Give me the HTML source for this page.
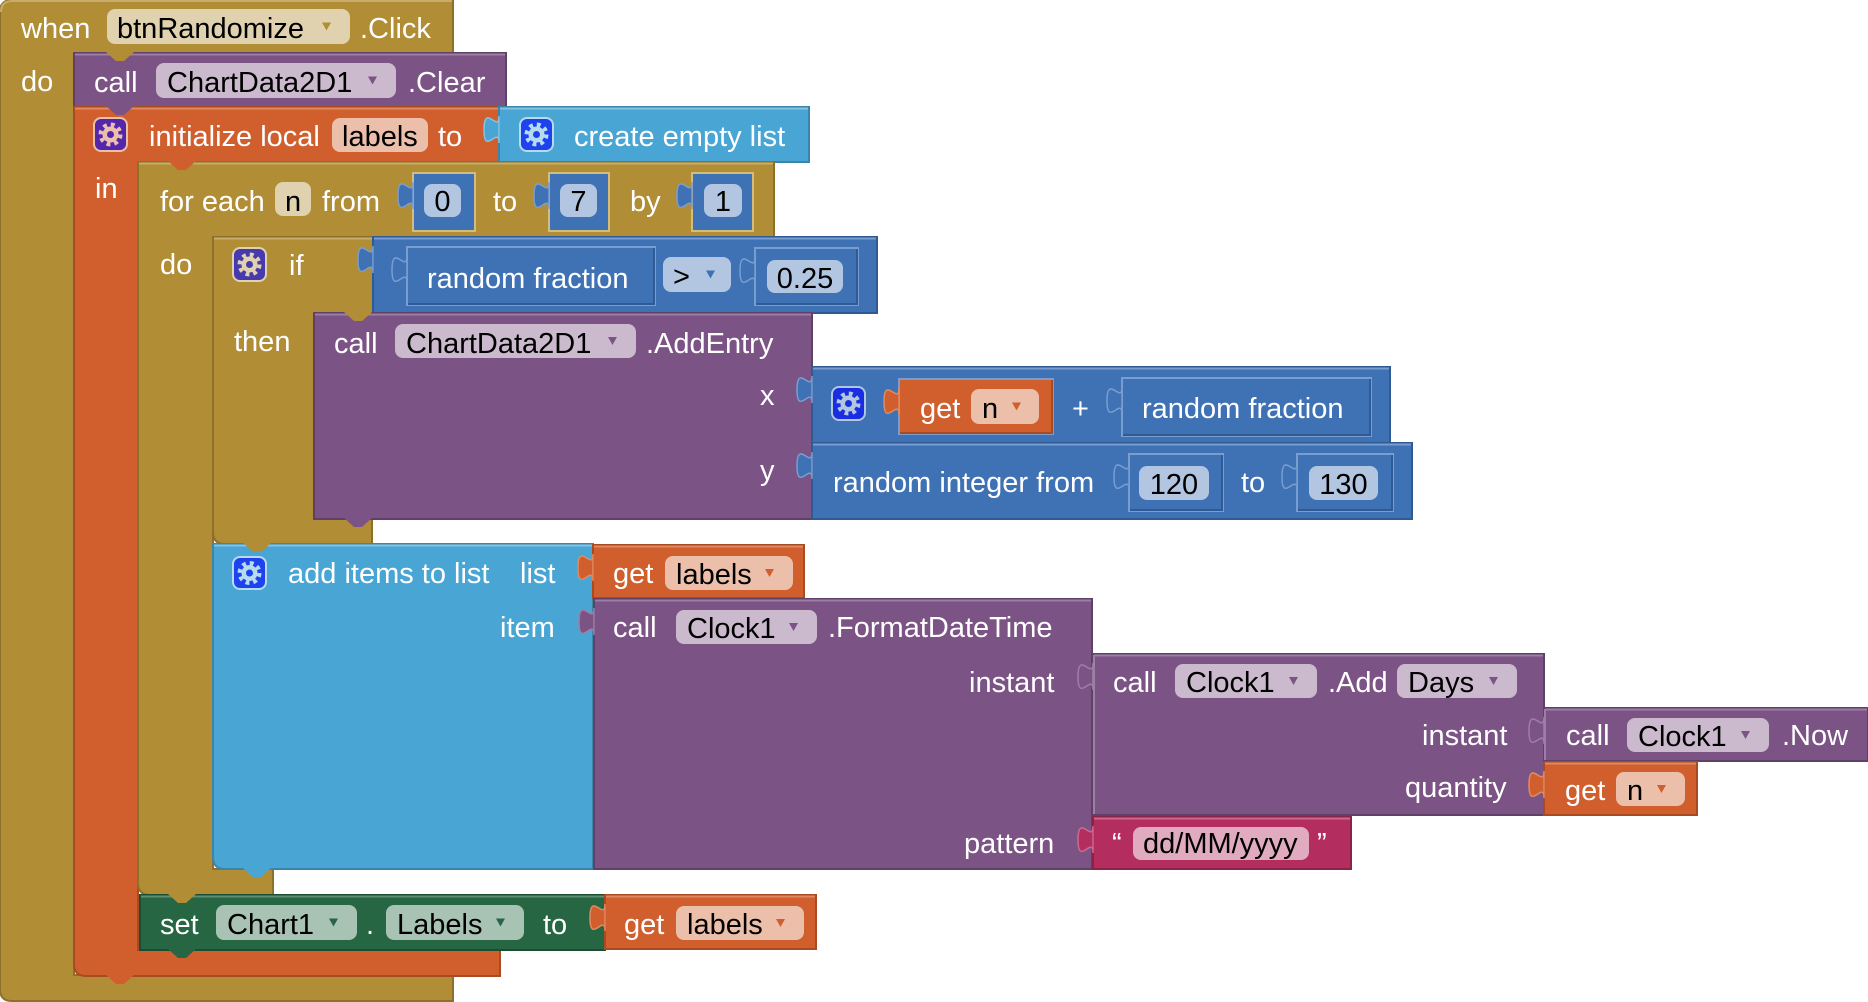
<!DOCTYPE html>
<html>
<head>
<meta charset="utf-8">
<style>
html,body{margin:0;padding:0;background:#fff;}
svg{display:block;}
text{font-family:"Liberation Sans",Arial,sans-serif;font-size:29px;}
.l{fill:#fff;}
.f{fill:#000;}
</style>
</head>
<body>
<svg xmlns="http://www.w3.org/2000/svg" width="1868" height="1002" viewBox="0 0 1868 1002">

<!-- Event block (gold) -->
<path d="M0,12 Q0,0 12,0 H453 V53 H74 V975 H453 V1001 H12 Q0,1001 0,989 Z" fill="#b18e35" stroke="#8d712a" stroke-width="2"/>
<path d="M1,12 Q1,1 12,1 H452" stroke="#c8ad6a" stroke-width="2" fill="none"/>
<text x="21" y="38" class="l">when</text>
<rect x="107" y="9" width="243" height="35" rx="8" fill="#e0d2ae"/>
<text x="117" y="38" class="f">btnRandomize</text>
<path d="M322,22.5 h9 l-4.5,8 z" fill="#b18e35"/>
<text x="360" y="38" class="l">.Click</text>
<text x="21" y="91" class="l">do</text>

<!-- Clear (purple) -->
<rect x="74" y="53" width="432" height="54" fill="#7c5385" stroke="#5f4066" stroke-width="2"/>
<path d="M75,54.5 H505" stroke="#9d7fa5" stroke-width="2"/>
<polygon points="106,52 116,61 124,61 134,52" fill="#b18e35"/>
<text x="94" y="92" class="l">call</text>
<rect x="156" y="63" width="240" height="35" rx="8" fill="#cbbace"/>
<text x="167" y="92" class="f">ChartData2D1</text>
<path d="M368,76.5 h9 l-4.5,8 z" fill="#7c5385"/>
<text x="408" y="92" class="l">.Clear</text>

<!-- initialize local (orange) -->
<path d="M74,107 H499 V162 H138 V950 H500 V976 H86 Q74,976 74,964 Z" fill="#d05f2d" stroke="#a84b23" stroke-width="2"/>
<path d="M75,108.5 H498" stroke="#e08a63" stroke-width="2"/>
<polygon points="106,106 116,115 124,115 134,106" fill="#7c5385"/>
<rect x="94" y="118" width="33" height="33" rx="7" fill="#5326ab" stroke="#ecbfab" stroke-width="2"/>
<circle cx="110.5" cy="134.5" r="9.5" fill="none" stroke="#ecbfab" stroke-width="5" stroke-dasharray="3.7 3.76"/>
<circle cx="110.5" cy="134.5" r="8" fill="#ecbfab"/>
<circle cx="110.5" cy="134.5" r="3.5" fill="#5326ab"/>
<text x="149" y="146" class="l">initialize local</text>
<rect x="332" y="118" width="96" height="34" rx="8" fill="#ecbfab"/>
<text x="342" y="146" class="f">labels</text>
<text x="438" y="146" class="l">to</text>
<text x="95" y="198" class="l">in</text>

<!-- create empty list (light blue) -->
<rect x="499" y="107" width="310" height="55" fill="#49a6d4" stroke="#3a85aa" stroke-width="2"/>
<path d="M500,108.5 H808" stroke="#86c3e2" stroke-width="2"/>
<path d="M499,116 C499,134 484,102 484,130 C484,157 499,125 499,143 Z" fill="#49a6d4" stroke="#86c3e2" stroke-width="1.5"/>
<rect x="520" y="118" width="33" height="33" rx="7" fill="#1d42ee" stroke="#b6dbee" stroke-width="2"/>
<circle cx="536.5" cy="134.5" r="9.5" fill="none" stroke="#b6dbee" stroke-width="5" stroke-dasharray="3.7 3.76"/>
<circle cx="536.5" cy="134.5" r="8" fill="#b6dbee"/>
<circle cx="536.5" cy="134.5" r="3.5" fill="#1d42ee"/>
<text x="574" y="146" class="l">create empty list</text>

<!-- for each (gold) -->
<path d="M138,162 H774 V237 H213 V869 H273 V895 H150 Q138,895 138,883 Z" fill="#b18e35" stroke="#8d712a" stroke-width="2"/>
<path d="M139,163.5 H773" stroke="#c8ad6a" stroke-width="2"/>
<polygon points="168,161 178,170 186,170 196,161" fill="#d05f2d"/>
<text x="160" y="211" class="l">for each</text>
<rect x="275" y="182" width="36" height="34" rx="8" fill="#e0d2ae"/>
<text x="285" y="211" class="f">n</text>
<text x="322" y="211" class="l">from</text>
<rect x="413" y="173" width="62" height="58" fill="#3f71b5" stroke="#d4bc7c" stroke-width="2"/>
<path d="M413,182 C413,200 398,168 398,196 C398,223 413,191 413,209 Z" fill="#3f71b5" stroke="#7a9dd0" stroke-width="1.5"/>
<rect x="424" y="184" width="37" height="33" rx="8" fill="#b2c6e1"/>
<text x="442.5" y="211" class="f" text-anchor="middle">0</text>
<text x="493" y="211" class="l">to</text>
<rect x="549" y="173" width="60" height="58" fill="#3f71b5" stroke="#d4bc7c" stroke-width="2"/>
<path d="M549,182 C549,200 534,168 534,196 C534,223 549,191 549,209 Z" fill="#3f71b5" stroke="#7a9dd0" stroke-width="1.5"/>
<rect x="560" y="184" width="37" height="33" rx="8" fill="#b2c6e1"/>
<text x="578.5" y="211" class="f" text-anchor="middle">7</text>
<text x="630" y="211" class="l">by</text>
<rect x="692" y="173" width="61" height="58" fill="#3f71b5" stroke="#d4bc7c" stroke-width="2"/>
<path d="M692,182 C692,200 677,168 677,196 C677,223 692,191 692,209 Z" fill="#3f71b5" stroke="#7a9dd0" stroke-width="1.5"/>
<rect x="704" y="184" width="38" height="33" rx="8" fill="#b2c6e1"/>
<text x="723" y="211" class="f" text-anchor="middle">1</text>
<text x="160" y="274" class="l">do</text>

<!-- if (gold) -->
<path d="M213,237 H373 V313 H314 V519 H372 V544 H225 Q213,544 213,532 Z" fill="#b18e35" stroke="#8d712a" stroke-width="2"/>
<path d="M214,238.5 H372" stroke="#c8ad6a" stroke-width="2"/>
<rect x="233" y="248" width="33" height="33" rx="7" fill="#4739ae" stroke="#e0d2ae" stroke-width="2"/>
<circle cx="249.5" cy="264.5" r="9.5" fill="none" stroke="#e0d2ae" stroke-width="5" stroke-dasharray="3.7 3.76"/>
<circle cx="249.5" cy="264.5" r="8" fill="#e0d2ae"/>
<circle cx="249.5" cy="264.5" r="3.5" fill="#4739ae"/>
<text x="289" y="275" class="l">if</text>
<text x="234" y="351" class="l">then</text>

<!-- compare (math blue) -->
<rect x="373" y="237" width="504" height="76" fill="#3f71b5" stroke="#2f5a93" stroke-width="2"/>
<path d="M374,238.5 H876" stroke="#7a9dd0" stroke-width="2"/>
<path d="M373,246 C373,264 358,232 358,260 C358,287 373,255 373,273 Z" fill="#3f71b5" stroke="#7a9dd0" stroke-width="1.5"/>
<rect x="407" y="247" width="248" height="58" fill="#3f71b5" stroke="#7a9dd0" stroke-width="2"/>
<path d="M408,304 H654 V248" stroke="#2f5a93" stroke-width="2" fill="none"/>
<path d="M407,256 C407,274 392,242 392,270 C392,297 407,265 407,283 Z" fill="#3f71b5" stroke="#7a9dd0" stroke-width="1.5"/>
<text x="427" y="288" class="l">random fraction</text>
<rect x="663" y="257" width="68" height="35" rx="8" fill="#b2c6e1"/>
<text x="673" y="286" class="f">&gt;</text>
<path d="M706,270.5 h9 l-4.5,8 z" fill="#3f71b5"/>
<rect x="755" y="248" width="103" height="57" fill="#3f71b5" stroke="#7a9dd0" stroke-width="2"/>
<path d="M756,304 H857 V249" stroke="#2f5a93" stroke-width="2" fill="none"/>
<path d="M755,257 C755,275 740,243 740,271 C740,298 755,266 755,284 Z" fill="#3f71b5" stroke="#7a9dd0" stroke-width="1.5"/>
<rect x="767" y="260" width="76" height="33" rx="8" fill="#b2c6e1"/>
<text x="805" y="288" class="f" text-anchor="middle">0.25</text>

<!-- AddEntry (purple) -->
<rect x="314" y="313" width="498" height="206" fill="#7c5385" stroke="#5f4066" stroke-width="2"/>
<path d="M315,314.5 H811" stroke="#9d7fa5" stroke-width="2"/>
<polygon points="344,312 354,321 362,321 372,312" fill="#b18e35"/>
<polygon points="344,518 354,527 362,527 372,518" fill="#7c5385"/>
<text x="334" y="353" class="l">call</text>
<rect x="395" y="324" width="241" height="34" rx="8" fill="#cbbace"/>
<text x="406" y="353" class="f">ChartData2D1</text>
<path d="M608,337 h9 l-4.5,8 z" fill="#7c5385"/>
<text x="646" y="353" class="l">.AddEntry</text>
<text x="760" y="405" class="l">x</text>
<text x="760" y="480" class="l">y</text>

<!-- plus (math blue) -->
<rect x="812" y="367" width="578" height="76" fill="#3f71b5" stroke="#2f5a93" stroke-width="2"/>
<path d="M813,368.5 H1389" stroke="#7a9dd0" stroke-width="2"/>
<path d="M812,376 C812,394 797,362 797,390 C797,417 812,385 812,403 Z" fill="#3f71b5" stroke="#7a9dd0" stroke-width="1.5"/>
<rect x="832" y="387" width="33" height="33" rx="7" fill="#192de1" stroke="#b2c6e1" stroke-width="2"/>
<circle cx="848.5" cy="403.5" r="9.5" fill="none" stroke="#b2c6e1" stroke-width="5" stroke-dasharray="3.7 3.76"/>
<circle cx="848.5" cy="403.5" r="8" fill="#b2c6e1"/>
<circle cx="848.5" cy="403.5" r="3.5" fill="#192de1"/>
<rect x="899" y="379" width="154" height="55" fill="#d05f2d" stroke="#7a9dd0" stroke-width="2"/>
<path d="M900,433 H1052 V380" stroke="#a84b23" stroke-width="2" fill="none"/>
<path d="M899,388 C899,406 884,374 884,402 C884,429 899,397 899,415 Z" fill="#d05f2d" stroke="#e08a63" stroke-width="1.5"/>
<text x="920" y="418" class="l">get</text>
<rect x="971" y="389" width="68" height="35" rx="8" fill="#ecbfab"/>
<text x="982" y="418" class="f">n</text>
<path d="M1012,402.5 h9 l-4.5,8 z" fill="#d05f2d"/>
<text x="1072" y="418" class="l">+</text>
<rect x="1122" y="378" width="249" height="58" fill="#3f71b5" stroke="#7a9dd0" stroke-width="2"/>
<path d="M1123,435 H1370 V379" stroke="#2f5a93" stroke-width="2" fill="none"/>
<path d="M1122,387 C1122,405 1107,373 1107,401 C1107,428 1122,396 1122,414 Z" fill="#3f71b5" stroke="#7a9dd0" stroke-width="1.5"/>
<text x="1142" y="418" class="l">random fraction</text>

<!-- random integer (math blue) -->
<rect x="812" y="443" width="600" height="76" fill="#3f71b5" stroke="#2f5a93" stroke-width="2"/>
<path d="M813,444.5 H1411" stroke="#7a9dd0" stroke-width="2"/>
<path d="M812,452 C812,470 797,438 797,466 C797,493 812,461 812,479 Z" fill="#3f71b5" stroke="#7a9dd0" stroke-width="1.5"/>
<text x="833" y="492" class="l">random integer from</text>
<rect x="1129" y="454" width="94" height="57" fill="#3f71b5" stroke="#7a9dd0" stroke-width="2"/>
<path d="M1130,510 H1222 V455" stroke="#2f5a93" stroke-width="2" fill="none"/>
<path d="M1129,463 C1129,481 1114,449 1114,477 C1114,504 1129,472 1129,490 Z" fill="#3f71b5" stroke="#7a9dd0" stroke-width="1.5"/>
<rect x="1139" y="466" width="70" height="34" rx="8" fill="#b2c6e1"/>
<text x="1174" y="494" class="f" text-anchor="middle">120</text>
<text x="1241" y="492" class="l">to</text>
<rect x="1297" y="454" width="96" height="57" fill="#3f71b5" stroke="#7a9dd0" stroke-width="2"/>
<path d="M1298,510 H1392 V455" stroke="#2f5a93" stroke-width="2" fill="none"/>
<path d="M1297,463 C1297,481 1282,449 1282,477 C1282,504 1297,472 1297,490 Z" fill="#3f71b5" stroke="#7a9dd0" stroke-width="1.5"/>
<rect x="1309" y="466" width="69" height="34" rx="8" fill="#b2c6e1"/>
<text x="1343.5" y="494" class="f" text-anchor="middle">130</text>

<!-- add items to list (light blue) -->
<path d="M213,544 H593 V869 H225 Q213,869 213,857 Z" fill="#49a6d4" stroke="#3a85aa" stroke-width="2"/>
<path d="M214,545.5 H592" stroke="#86c3e2" stroke-width="2"/>
<polygon points="243,543 253,552 261,552 271,543" fill="#b18e35"/>
<polygon points="243,868 253,877 261,877 271,868" fill="#49a6d4"/>
<rect x="233" y="557" width="33" height="32" rx="7" fill="#1d42ee" stroke="#b6dbee" stroke-width="2"/>
<circle cx="249.5" cy="573" r="9.5" fill="none" stroke="#b6dbee" stroke-width="5" stroke-dasharray="3.7 3.76"/>
<circle cx="249.5" cy="573" r="8" fill="#b6dbee"/>
<circle cx="249.5" cy="573" r="3.5" fill="#1d42ee"/>
<text x="288" y="583" class="l">add items to list</text>
<text x="520" y="583" class="l">list</text>
<text x="500" y="637" class="l">item</text>

<!-- get labels (orange) -->
<rect x="593" y="545" width="211" height="53" fill="#d05f2d" stroke="#a84b23" stroke-width="2"/>
<path d="M594,546.5 H803" stroke="#e08a63" stroke-width="2"/>
<path d="M593,554 C593,572 578,540 578,568 C578,595 593,563 593,581 Z" fill="#d05f2d" stroke="#e08a63" stroke-width="1.5"/>
<text x="613" y="583" class="l">get</text>
<rect x="665" y="556" width="128" height="34" rx="8" fill="#ecbfab"/>
<text x="676" y="584" class="f">labels</text>
<path d="M765,569 h9 l-4.5,8 z" fill="#d05f2d"/>

<!-- FormatDateTime (purple) -->
<rect x="594" y="599" width="498" height="270" fill="#7c5385" stroke="#5f4066" stroke-width="2"/>
<path d="M595,600.5 H1091" stroke="#9d7fa5" stroke-width="2"/>
<path d="M594,608 C594,626 579,594 579,622 C579,649 594,617 594,635 Z" fill="#7c5385" stroke="#9d7fa5" stroke-width="1.5"/>
<text x="613" y="637" class="l">call</text>
<rect x="676" y="610" width="141" height="34" rx="8" fill="#cbbace"/>
<text x="687" y="638" class="f">Clock1</text>
<path d="M789,623 h9 l-4.5,8 z" fill="#7c5385"/>
<text x="828" y="637" class="l">.FormatDateTime</text>
<text x="969" y="692" class="l">instant</text>
<text x="964" y="853" class="l">pattern</text>

<!-- Add Days (purple) -->
<rect x="1093" y="654" width="451" height="161" fill="#7c5385" stroke="#5f4066" stroke-width="2"/>
<path d="M1094,655.5 H1543" stroke="#9d7fa5" stroke-width="2"/>
<path d="M1094,655 V814" stroke="#9d7fa5" stroke-width="2"/>
<path d="M1093,663 C1093,681 1078,649 1078,677 C1078,704 1093,672 1093,690 Z" fill="#7c5385" stroke="#9d7fa5" stroke-width="1.5"/>
<text x="1113" y="692" class="l">call</text>
<rect x="1175" y="664" width="142" height="34" rx="8" fill="#cbbace"/>
<text x="1186" y="692" class="f">Clock1</text>
<path d="M1289,677 h9 l-4.5,8 z" fill="#7c5385"/>
<text x="1328" y="692" class="l">.Add</text>
<rect x="1397" y="664" width="120" height="34" rx="8" fill="#cbbace"/>
<text x="1408" y="692" class="f">Days</text>
<path d="M1489,677 h9 l-4.5,8 z" fill="#7c5385"/>
<text x="1422" y="745" class="l">instant</text>
<text x="1405" y="797" class="l">quantity</text>

<!-- Now (purple) -->
<rect x="1544" y="708" width="324" height="53" fill="#7c5385" stroke="#5f4066" stroke-width="2"/>
<path d="M1545,709.5 H1867" stroke="#9d7fa5" stroke-width="2"/>
<path d="M1545,709 V760" stroke="#9d7fa5" stroke-width="2"/>
<path d="M1544,717 C1544,735 1529,703 1529,731 C1529,758 1544,726 1544,744 Z" fill="#7c5385" stroke="#9d7fa5" stroke-width="1.5"/>
<text x="1566" y="745" class="l">call</text>
<rect x="1627" y="718" width="142" height="34" rx="8" fill="#cbbace"/>
<text x="1638" y="746" class="f">Clock1</text>
<path d="M1741,731 h9 l-4.5,8 z" fill="#7c5385"/>
<text x="1782" y="745" class="l">.Now</text>

<!-- get n (orange) -->
<rect x="1544" y="762" width="153" height="53" fill="#d05f2d" stroke="#a84b23" stroke-width="2"/>
<path d="M1545,763.5 H1696" stroke="#e08a63" stroke-width="2"/>
<path d="M1544,771 C1544,789 1529,757 1529,785 C1529,812 1544,780 1544,798 Z" fill="#d05f2d" stroke="#e08a63" stroke-width="1.5"/>
<text x="1565" y="800" class="l">get</text>
<rect x="1616" y="772" width="69" height="34" rx="8" fill="#ecbfab"/>
<text x="1627" y="800" class="f">n</text>
<path d="M1657,785 h9 l-4.5,8 z" fill="#d05f2d"/>

<!-- text (magenta) -->
<rect x="1093" y="817" width="258" height="52" fill="#b32d5e" stroke="#8a2348" stroke-width="2"/>
<path d="M1094,818.5 H1350" stroke="#cc6a8e" stroke-width="2"/>
<path d="M1093,826 C1093,844 1078,812 1078,840 C1078,867 1093,835 1093,853 Z" fill="#b32d5e" stroke="#cc6a8e" stroke-width="1.5"/>
<text x="1112" y="853" class="l">“</text>
<rect x="1133" y="827" width="176" height="33" rx="8" fill="#e1abbf"/>
<text x="1143" y="853" class="f">dd/MM/yyyy</text>
<text x="1317" y="853" class="l">”</text>

<!-- set Chart1.Labels (dark green) -->
<rect x="140" y="895" width="465" height="55" fill="#266643" stroke="#1c4d32" stroke-width="2"/>
<path d="M141,896.5 H604" stroke="#5f8f75" stroke-width="2"/>
<polygon points="168,894 178,903 186,903 196,894" fill="#b18e35"/>
<polygon points="168,949 178,958 186,958 196,949" fill="#266643"/>
<text x="160" y="934" class="l">set</text>
<rect x="216" y="905" width="141" height="35" rx="8" fill="#a8c2b4"/>
<text x="227" y="934" class="f">Chart1</text>
<path d="M329,918.5 h9 l-4.5,8 z" fill="#266643"/>
<text x="366" y="934" class="l">.</text>
<rect x="386" y="905" width="138" height="35" rx="8" fill="#a8c2b4"/>
<text x="397" y="934" class="f">Labels</text>
<path d="M496,918.5 h9 l-4.5,8 z" fill="#266643"/>
<text x="543" y="934" class="l">to</text>

<!-- get labels (orange) for set -->
<rect x="605" y="895" width="211" height="54" fill="#d05f2d" stroke="#a84b23" stroke-width="2"/>
<path d="M606,896.5 H815" stroke="#e08a63" stroke-width="2"/>
<path d="M605,904 C605,922 590,890 590,918 C590,945 605,913 605,931 Z" fill="#d05f2d" stroke="#e08a63" stroke-width="1.5"/>
<text x="624" y="934" class="l">get</text>
<rect x="676" y="906" width="128" height="34" rx="8" fill="#ecbfab"/>
<text x="687" y="934" class="f">labels</text>
<path d="M776,919 h9 l-4.5,8 z" fill="#d05f2d"/>

<!-- orange bottom bump -->
<polygon points="106,975 116,984 124,984 134,975" fill="#d05f2d"/>

</svg>
</body>
</html>
